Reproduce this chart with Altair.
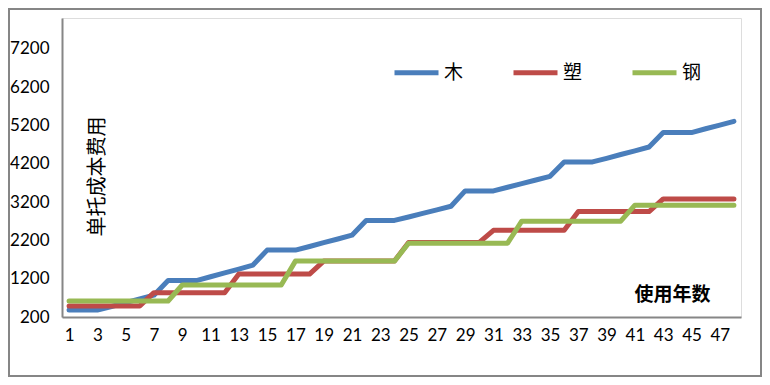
import altair as alt
import pandas as pd

years = list(range(1, 49))
series_names = ["木", "塑", "钢"]
colors = ["#4A7EBB", "#BE4B48", "#98B954"]

wood = [380, 380, 380, 475, 575, 675, 770, 1150, 1150, 1150, 1250, 1350,
        1450, 1555, 1945, 1945, 1945, 2040, 2140, 2235, 2335, 2720, 2720, 2720,
        2810, 2905, 2995, 3090, 3490, 3490, 3490, 3585, 3680, 3775, 3870, 4245,
        4245, 4245, 4340, 4440, 4535, 4635, 5010, 5010, 5010, 5110, 5205, 5305]
plastic = [490, 490, 490, 490, 490, 490, 835, 835, 835, 835, 835, 835,
           1320, 1320, 1320, 1320, 1320, 1320, 1658, 1658, 1658, 1658, 1658, 1658,
           2145, 2145, 2145, 2145, 2145, 2145, 2460, 2460, 2460, 2460, 2460, 2460,
           2950, 2950, 2950, 2950, 2950, 2950, 3280, 3280, 3280, 3280, 3280, 3280]
steel = [617, 617, 617, 617, 617, 617, 617, 617, 1035, 1035, 1035, 1035,
         1035, 1035, 1035, 1035, 1658, 1658, 1658, 1658, 1658, 1658, 1658, 1658,
         2125, 2125, 2125, 2125, 2125, 2125, 2125, 2125, 2700, 2700, 2700, 2700,
         2700, 2700, 2700, 2700, 3117, 3117, 3117, 3117, 3117, 3117, 3117, 3117]

x_labels = list(range(1, 48, 2))
y_labels = [200, 1200, 2200, 3200, 4200, 5200, 6200, 7200]

rows = []
for name, vals in zip(series_names, [wood, plastic, steel]):
    for yr, v in zip(years, vals):
        rows.append({"year": yr, "cost": v, "series": name})
df = pd.DataFrame(rows)

FONT = "Lato, 'Noto Sans CJK SC', sans-serif"
AXIS_COLOR = "#868686"

x_enc = alt.X(
    "year:Q",
    scale=alt.Scale(domain=[0.5, 48.5], nice=False, zero=False),
    axis=alt.Axis(
        values=x_labels, ticks=False, grid=False, domainColor=AXIS_COLOR,
        domainWidth=2, labelFontSize=17, labelColor="black", labelPadding=10,
        labelFlush=False, labelOverlap=False, labelFont=FONT, format="d",
        title="使用年数", titleX=610, titleY=-23, titleFontSize=19,
        titleFontWeight="bold", titleAlign="center", titleBaseline="middle",
        titleColor="black", titleFont="'Noto Sans CJK SC'",
    ),
)
y_enc = alt.Y(
    "cost:Q",
    scale=alt.Scale(domain=[200, 8000], nice=False, zero=False),
    axis=alt.Axis(
        values=y_labels, ticks=False, grid=False, domainColor=AXIS_COLOR,
        domainWidth=2, labelFontSize=17, labelColor="black", labelPadding=13,
        labelFont=FONT, labelOverlap=False, format="d",
        title="单托成本费用", titleAngle=270, titleX=35, titleY=158,
        titleFontSize=20, titleFontWeight="normal", titleAlign="center",
        titleBaseline="middle", titleColor="black", titleFont="'Noto Sans CJK SC'",
    ),
)
color_enc = alt.Color(
    "series:N",
    scale=alt.Scale(domain=series_names, range=colors),
    legend=alt.Legend(
        orient="none", legendX=330, legendY=30, direction="horizontal",
        symbolType="stroke", symbolStrokeWidth=5, symbolSize=1936,
        labelFontSize=19, labelOffset=3, columnPadding=39, title=None,
        padding=0, labelFont="'Noto Sans CJK SC'", labelColor="black",
    ),
)

base = alt.Chart(df).mark_line(strokeWidth=5, strokeCap="round", strokeJoin="round").encode(
    x=x_enc, y=y_enc, color=color_enc
)
layers = [base.transform_filter(alt.datum.series == n) for n in series_names]

frame = alt.Chart(pd.DataFrame({"a": [0]})).mark_rect(
    fillOpacity=0, stroke=AXIS_COLOR, strokeWidth=2
).encode(x=alt.value(-53), x2=alt.value(699), y=alt.value(-9), y2=alt.value(358))

chart = alt.layer(frame, *layers).properties(
    width=679, height=299,
    autosize=alt.AutoSizeParams(type="none"),
    padding={"left": 54, "top": 10, "right": 21, "bottom": 60},
).configure_view(stroke=None).configure(font=FONT, background="white")

chart.save("out.html", embed_options={"renderer": "svg", "actions": False})
